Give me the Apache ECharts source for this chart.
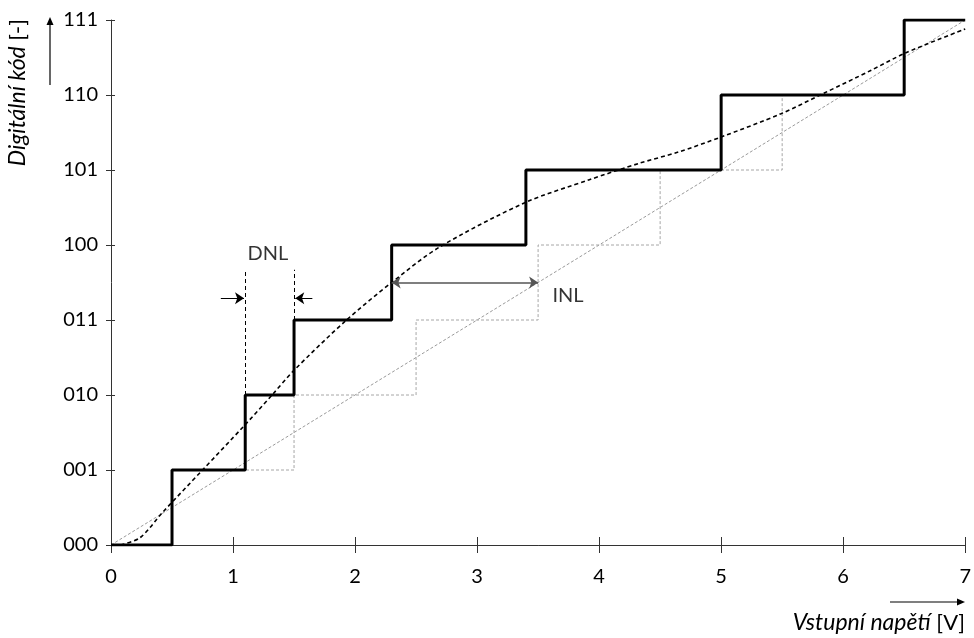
<!DOCTYPE html>
<html>
<head>
<meta charset="utf-8">
<script src="https://cdn.jsdelivr.net/npm/echarts@6/dist/echarts.min.js"></script>
<style>
  html, body { margin: 0; padding: 0; background: #fff; }
  #chart { width: 974px; height: 638px; }
</style>
</head>
<body>
<div id="chart"></div>
<script>
// data
const xTicks = [0, 1, 2, 3, 4, 5, 6, 7];
const codeLabels = ['000', '001', '010', '011', '100', '101', '110', '111'];

// transitions of the real converter (x where the code goes up by one)
const realEdges = [0.5, 1.1, 1.5, 2.3, 3.4, 5.0, 6.5];
// transitions of the ideal converter
const idealEdges = [0.5, 1.5, 2.5, 3.5, 4.5, 5.5, 6.5];

// ideal transfer line
const idealLineX = [0, 7];
const idealLineY = [0, 7];

// real (nonlinear) transfer curve
const curveX = [0.08, 0.24, 0.42, 0.75, 1.08, 1.32, 1.5, 1.93, 2.3, 2.69, 3.4, 3.92, 4.33, 4.65, 5.0, 5.49, 5.85, 6.23, 6.51, 7];
const curveY = [0, 0.1, 0.43, 1.0, 1.57, 2.0, 2.33, 3.0, 3.5, 3.97, 4.57, 4.87, 5.09, 5.24, 5.44, 5.75, 6.03, 6.33, 6.56, 6.88];

// annotations
const dnlGuides = [[[1.1, 2], [1.1, 3.67]], [[1.5, 3], [1.5, 3.67]]];
const dnlArrows = [[[0.9, 3.29], [1.09, 3.29]], [[1.65, 3.29], [1.51, 3.29]]];
const inlArrow = [[2.3, 3.5], [3.5, 3.5]];
const notes = [{ name: 'DNL', value: [1.285, 3.89] }, { name: 'INL', value: [3.745, 3.33] }];

const FONT = 'Lato';

function stairs(edges) {
    const pts = [[0, 0]];
    edges.forEach(function (e, i) { pts.push([e, i + 1]); });
    pts.push([7, edges.length]);
    return pts;
}

const chart = echarts.init(document.getElementById('chart'), null, { renderer: 'canvas' });

const axisCol = '#333';

const option = {
    backgroundColor: '#ffffff',
    animation: false,
    grid: { left: 111, right: 7, top: 20, bottom: 93 },
    xAxis: [{
        type: 'value', min: 0, max: 7, interval: 1,
        axisLine: { show: true, onZero: false, lineStyle: { color: axisCol, width: 1 } },
        axisTick: { show: true, length: 8, lineStyle: { color: axisCol } },
        axisLabel: { margin: 22, fontFamily: FONT, fontSize: 20, color: '#000' },
        splitLine: { show: false }
    }, {
        type: 'value', min: 0, max: 7, interval: 1, position: 'bottom',
        axisLine: { show: false, onZero: false },
        axisTick: { show: true, inside: true, length: 8, lineStyle: { color: axisCol } },
        axisLabel: { show: false },
        splitLine: { show: false }
    }],
    yAxis: [{
        type: 'value', min: 0, max: 7, interval: 1,
        axisLine: { show: true, onZero: false, lineStyle: { color: axisCol, width: 1 } },
        axisTick: { show: true, length: 5, lineStyle: { color: axisCol } },
        axisLabel: {
            margin: 13, fontFamily: FONT, fontSize: 20, color: '#000',
            formatter: function (v) { return codeLabels[v]; }
        },
        splitLine: { show: false }
    }, {
        type: 'value', min: 0, max: 7, interval: 1, position: 'left',
        axisLine: { show: false, onZero: false },
        axisTick: { show: true, inside: true, length: 4, lineStyle: { color: axisCol } },
        axisLabel: { show: false },
        splitLine: { show: false }
    }],
    graphic: [
        {
            type: 'text', x: 18, y: 19, rotation: Math.PI / 2,
            style: {
                text: '{i|Digitální kód} [-]',
                align: 'right', verticalAlign: 'middle',
                fontFamily: FONT, fontSize: 22, fill: '#000',
                rich: { i: { fontStyle: 'italic', fontFamily: FONT, fontSize: 23 } }
            }
        },
        { type: 'line', shape: { x1: 50, y1: 85, x2: 50, y2: 24 }, style: { stroke: '#000', lineWidth: 1.2 } },
        { type: 'polygon', shape: { points: [[50, 17], [46.5, 25], [53.5, 25]] }, style: { fill: '#000' } },
        {
            type: 'text', x: 965, y: 623,
            style: {
                text: '{i|Vstupní napětí} [V]',
                align: 'right', verticalAlign: 'middle',
                fontFamily: FONT, fontSize: 22, fill: '#000',
                rich: { i: { fontStyle: 'italic', fontFamily: FONT, fontSize: 23 } }
            }
        },
        { type: 'line', shape: { x1: 890, y1: 602, x2: 958, y2: 602 }, style: { stroke: '#000', lineWidth: 1.2 } },
        { type: 'polygon', shape: { points: [[965, 602], [957, 598.5], [957, 605.5]] }, style: { fill: '#000' } }
    ],
    series: [
        {
            name: 'ideal line', type: 'line', showSymbol: false, z: 2,
            data: idealLineX.map(function (x, i) { return [x, idealLineY[i]]; }),
            lineStyle: { color: '#9a9a9a', width: 1, type: [3, 2] }
        },
        {
            name: 'ideal stairs', type: 'line', step: 'end', showSymbol: false, z: 2,
            data: stairs(idealEdges),
            lineStyle: { color: '#a6a6a6', width: 1, type: [3, 2] }
        },
        {
            name: 'curve', type: 'line', smooth: 0.3, showSymbol: false, z: 3,
            data: curveX.map(function (x, i) { return [x, curveY[i]]; }),
            lineStyle: { color: '#000', width: 1.6, type: [4, 3] }
        },
        {
            name: 'real stairs', type: 'line', step: 'end', showSymbol: false, z: 4,
            data: stairs(realEdges),
            lineStyle: { color: '#000', width: 3 }
        },
        {
            type: 'lines', coordinateSystem: 'cartesian2d', z: 5,
            symbol: ['none', 'none'],
            data: dnlGuides.map(function (c) { return { coords: c }; }),
            lineStyle: { color: '#000', width: 1, type: [4, 3], opacity: 1 }
        },
        {
            type: 'lines', coordinateSystem: 'cartesian2d', z: 5,
            symbol: ['none', 'arrow'], symbolSize: [0, 9],
            data: dnlArrows.map(function (c) { return { coords: c }; }),
            lineStyle: { color: '#000', width: 1.2, opacity: 1 }
        },
        {
            type: 'lines', coordinateSystem: 'cartesian2d', z: 5,
            symbol: ['arrow', 'arrow'], symbolSize: 9,
            data: [{ coords: inlArrow }],
            lineStyle: { color: '#555', width: 1.5, opacity: 1 }
        },
        {
            type: 'scatter', z: 6, symbolSize: 0, silent: true,
            data: notes,
            label: {
                show: true, position: 'inside', formatter: '{b}',
                fontFamily: FONT, fontSize: 20, color: '#000'
            }
        }
    ]
};

chart.setOption(option);
</script>
</body>
</html>
